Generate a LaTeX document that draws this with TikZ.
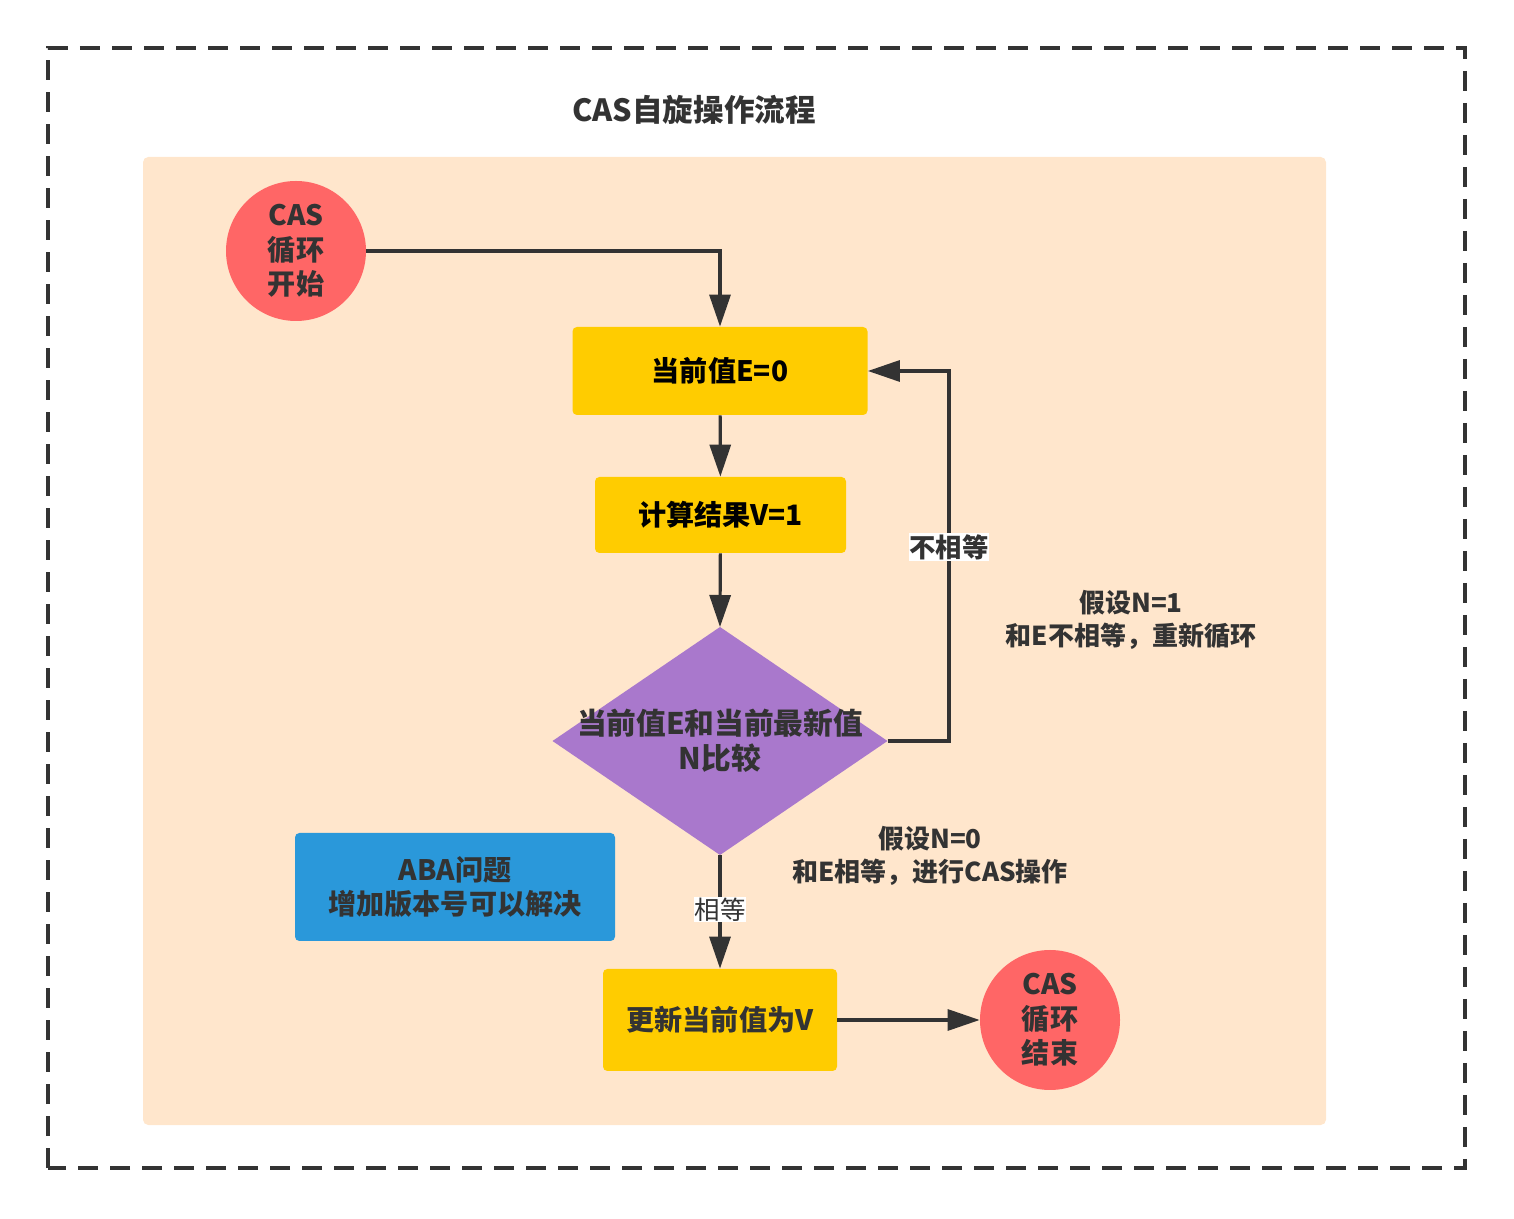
\documentclass[tikz,border=0pt]{standalone}
\usepackage{fontspec}
\setmainfont{Noto Sans CJK SC}
\usetikzlibrary{arrows.meta,shapes.geometric}
\definecolor{peach}{HTML}{FFE6CC}
\definecolor{boxyellow}{HTML}{FFCC00}
\definecolor{termred}{HTML}{FF6666}
\definecolor{cmppurple}{HTML}{A978CC}
\definecolor{notblue}{HTML}{2A98DA}
\definecolor{ink}{HTML}{333333}
\begin{document}
\begin{tikzpicture}[font=\fontsize{16}{19.6}\selectfont\bfseries,
  box/.style={fill=boxyellow,rounded corners=2.5pt,align=center,inner sep=0pt,text=black},
  term/.style={circle,fill=termred,minimum size=2.8cm,inner sep=0pt,align=center,text=ink},
  flow/.style={-{Triangle[length=0.64cm,width=0.42cm]},line width=1.8pt,draw=ink},
  lbl/.style={fill=white,inner sep=0.5pt,text=ink,font=\fontsize{15}{17}\selectfont\bfseries},
  note/.style={align=center,text=ink,font=\fontsize{14.8}{18.8}\selectfont\bfseries}]
\useasboundingbox (0,0) rectangle (30.28,24.36);
% frame + panel
\draw[ink,line width=2.3pt,dash pattern=on 0.4cm off 0.24cm] (0.96,1.00) rectangle (29.30,23.40);
\fill[peach,rounded corners=3pt] (2.86,1.86) rectangle (26.52,21.22);
\node[text=ink,font=\fontsize{17.4}{20}\selectfont\bfseries] (title) at (13.88,22.16) {CAS自旋操作流程};
% main flow
\node[term] (start) at (5.92,19.34) {CAS\\循环\\开始};
\node[box,minimum width=5.9cm,minimum height=1.76cm] (cur) at (14.40,16.94) {当前值E=0};
\node[box,minimum width=5.02cm,minimum height=1.52cm] (calc) at (14.41,14.06) {计算结果V=1};
\node[diamond,fill=cmppurple,minimum width=6.7cm,minimum height=4.56cm,inner sep=0pt,outer sep=0pt,
  label={[text=ink,align=center,font=\fontsize{16.9}{19.8}\selectfont\bfseries]center:当前值E和当前最新值\\N比较}] (cmp) at (14.40,9.54) {};
\node[box,text=ink,minimum width=4.68cm,minimum height=2.04cm] (upd) at (14.40,3.96) {更新当前值为V};
\node[term] (done) at (21.00,3.96) {CAS\\循环\\结束};
\node[box,fill=notblue,text=ink,minimum width=6.4cm,minimum height=2.16cm] (aba) at (9.10,6.62) {ABA问题\\增加版本号可以解决};
\coordinate (loop) at (18.98,13.42);
\draw[flow] (start.east) -| (cur.north);
\draw[flow] (cur) -- (calc);
\draw[flow] (calc) -- (cmp.north);
\draw[flow] (cmp.east) -| (loop) node[lbl] {不相等} |- (cur.east);
\draw[flow] (cmp.south) -- node[lbl,font=\fontsize{14.5}{17}\selectfont\mdseries,pos=0.48] {相等} (upd);
\draw[flow] (upd) -- (done);
% notes
\node[note] (ne) at (22.62,11.96) {假设N=1\\和E不相等，重新循环};
\node[note] (eq) at (18.60,7.24) {假设N=0\\和E相等，进行CAS操作};
\end{tikzpicture}
\end{document}
